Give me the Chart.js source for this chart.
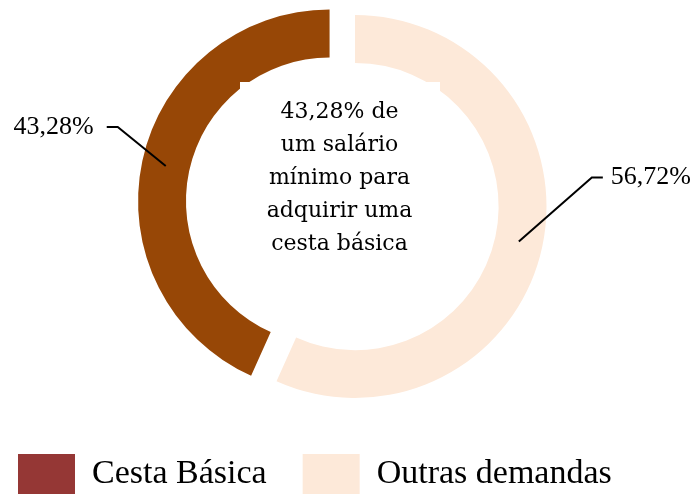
<!DOCTYPE html>
<html>
<head>
<meta charset="utf-8">
<script src="https://cdn.jsdelivr.net/npm/chart.js@4.4.1/dist/chart.umd.min.js"></script>
<style>
  html, body { margin: 0; padding: 0; width: 691px; height: 494px; overflow: hidden; background: #fff; }
  #wrap { position: absolute; left: -18px; top: -5px; }
</style>
</head>
<body>
<div id="wrap"><canvas id="graficoCesta" width="746" height="509"></canvas></div>
<script>
var categorias = ["Cesta Básica", "Outras demandas"];
var percentuais = [43.28, 56.72];
var rotulos = ["43,28%", "56,72%"];
var coresFatias = ["#974706", "#FDE9D9"];
var coresLegenda = ["#953735", "#FDE9D9"];
var deslocamentos = [26, 0];
var textoCentral = ["43,28% de", "um salário", "mínimo para", "adquirir uma", "cesta básica"];

var total = percentuais.reduce((a, b) => a + b, 0);
// a fatia "Cesta Básica" termina no topo
var rotacao = 360 * percentuais[1] / total;

// linhas de chamada dos rótulos (em relação ao ponto da fatia)
var guias = [
  { dx: -48, dy: -39, lado: -1, gap: 13 },
  { dx: 73, dy: -64, lado: 1, gap: 8 }
];

// desloca a fatia destacada sem aumentar o raio
const deslocar = {
  id: 'deslocar',
  beforeDatasetDraw(chart, args) {
    args.meta.data.forEach((arc, i) => {
      const d = deslocamentos[i];
      if (!d || arc._deslocado) return;
      const desenhar = arc.draw.bind(arc);
      arc.draw = function (ctx) {
        const meio = (this.startAngle + this.endAngle) / 2;
        ctx.save();
        ctx.translate(Math.cos(meio) * d, Math.sin(meio) * d);
        desenhar(ctx);
        ctx.restore();
      };
      arc._deslocado = true;
    });
  }
};

const textos = {
  id: 'textos',
  afterDatasetsDraw(chart) {
    const ctx = chart.ctx;
    const arcs = chart.getDatasetMeta(0).data;
    const cx = arcs[1].x, cy = arcs[1].y;
    ctx.save();

    // caixa de texto central
    ctx.fillStyle = '#fff';
    ctx.fillRect(cx - 115, cy - 124.5, 200, 180);
    ctx.fillStyle = '#000';
    ctx.font = '22px "DejaVu Serif"';
    ctx.textAlign = 'center';
    ctx.textBaseline = 'alphabetic';
    textoCentral.forEach((linha, i) => ctx.fillText(linha, cx - 15.5, cy - 89 + i * 33));

    // rótulos com linha de chamada
    ctx.font = '26px "Liberation Serif"';
    ctx.textBaseline = 'middle';
    ctx.strokeStyle = '#000';
    ctx.lineWidth = 2;
    arcs.forEach((arc, i) => {
      const p = arc.getProps(['x', 'y', 'startAngle', 'endAngle', 'innerRadius', 'outerRadius']);
      const meio = (p.startAngle + p.endAngle) / 2;
      const r = deslocamentos[i] + (p.innerRadius + p.outerRadius) / 2;
      const ax = p.x + Math.cos(meio) * r;
      const ay = p.y + Math.sin(meio) * r;
      const g = guias[i];
      const ex = ax + g.dx, ey = ay + g.dy;
      const hx = ex + g.lado * 11;
      ctx.beginPath();
      ctx.moveTo(ax, ay);
      ctx.lineTo(ex, ey);
      ctx.lineTo(hx, ey);
      ctx.stroke();
      ctx.textAlign = g.lado < 0 ? 'right' : 'left';
      ctx.fillText(rotulos[i], hx + g.lado * g.gap, ey);
    });
    ctx.restore();
  }
};

new Chart(document.getElementById('graficoCesta'), {
  type: 'doughnut',
  data: {
    labels: categorias,
    datasets: [{
      data: percentuais,
      backgroundColor: coresFatias,
      borderWidth: 0,
      hoverOffset: 0
    }]
  },
  options: {
    responsive: false,
    animation: false,
    rotation: rotacao,
    cutout: '75%',
    radius: 191.5,
    layout: { padding: 0 },
    plugins: {
      tooltip: { enabled: false },
      legend: {
        position: 'bottom',
        align: 'start',
        labels: {
          color: '#000',
          padding: 36,
          boxWidth: 57,
          boxHeight: 40,
          font: { family: '"Liberation Serif"', size: 34 },
          generateLabels(chart) {
            const itens = Chart.overrides.doughnut.plugins.legend.labels.generateLabels(chart);
            return itens.map((it, i) => Object.assign(it, {
              fillStyle: coresLegenda[i],
              strokeStyle: coresLegenda[i],
              lineWidth: 0
            }));
          }
        }
      }
    }
  },
  plugins: [deslocar, textos]
});
</script>
</body>
</html>
